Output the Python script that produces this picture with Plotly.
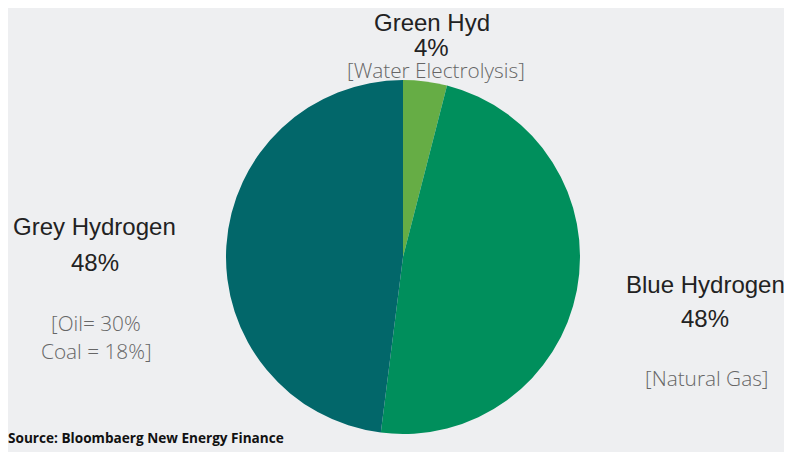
import plotly.graph_objects as go

labels = ["Green Hydrogen", "Blue Hydrogen", "Grey Hydrogen"]
values = [4, 48, 48]
colors = ["#66ad45", "#008f5c", "#02676a"]

# page body has an 8px margin, so the figure sits at (8, 8)
OFF = 8
W, H = 784, 444

def px(x):
    return (x - OFF) / W

def py(y):
    return 1 - (y - OFF) / H

fig = go.Figure(go.Pie(
    labels=labels, values=values, sort=False, direction="clockwise", rotation=0,
    marker=dict(colors=colors, line=dict(width=0)),
    textinfo="none", hoverinfo="label+percent",
    domain=dict(x=[px(226), px(580)], y=[py(434), py(80)]),
    showlegend=False,
))

main_font = dict(family="Liberation Sans, Arial, sans-serif", size=24, color="#222222")
sub_font = dict(family="Open Sans, sans-serif", size=20.8, color="#666666", weight=300)

annos = [
    ("4%", 431, 48, main_font),
    ("[Water Electrolysis]", 436, 70, sub_font),
    ("Grey Hydrogen", 94, 227, main_font),
    ("48%", 95, 262, main_font),
    ("[Oil= 30%", 96, 323, sub_font),
    ("Coal = 18%]", 96, 351, sub_font),
    ("Blue Hydrogen", 705, 284, main_font),
    ("48%", 705, 318, main_font),
    ("[Natural Gas]", 706, 378, sub_font),
]

annotations = [
    dict(text=t, x=px(x), y=py(y), xref="paper", yref="paper", xanchor="center",
         yanchor="middle", showarrow=False, font=f, borderpad=0)
    for t, x, y, f in annos
]
annotations.append(dict(
    text="Green Hyd", x=px(432), y=1, xref="paper", yref="paper", xanchor="center",
    yanchor="top", showarrow=False, font=main_font, borderpad=0))
annotations.append(dict(
    text="<b>Source: Bloombaerg New Energy Finance</b>", x=px(6), y=py(437),
    xref="paper", yref="paper", xanchor="left", yanchor="middle", showarrow=False,
    font=dict(family="Open Sans, sans-serif", size=13.6, color="#111111")))

fig.update_layout(
    width=W, height=H, margin=dict(l=0, r=0, t=0, b=0),
    paper_bgcolor="#eeeff1", plot_bgcolor="#eeeff1",
    annotations=annotations,
)

fig.write_html("out.html")
